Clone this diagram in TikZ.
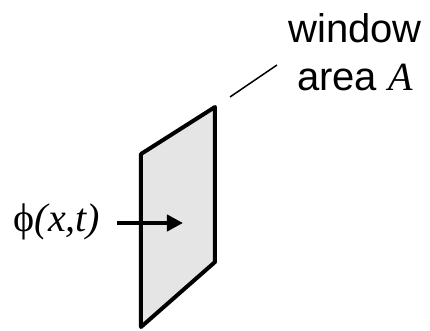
\documentclass[tikz,border=0pt]{standalone}
\usepackage{fontspec}
\setmainfont{Liberation Sans}
\newfontfamily\timesfont{Liberation Serif}
\usetikzlibrary{arrows.meta}
\newcommand{\var}[1]{{\timesfont\itshape #1}}

\begin{document}
\begin{tikzpicture}[
    x=0.5pt, y=-0.5pt,
    font=\fontsize{20}{24}\selectfont,
      >=Triangle,
      window/.style={draw=black, line width=2pt, line join=round, fill=black!10},
      label/.style={align=center, text=black, inner sep=0pt},
      flux/.style={->, line width=2pt, >={Triangle[length=8pt, width=8pt]}},
      leader/.style={draw=black, line width=0.75pt}
    ]
      \useasboundingbox (0,0) rectangle (430,331);
      \coordinate (top left) at (141,154);
      \coordinate (top right) at (215,107);
      \coordinate (bottom right) at (215,262);
      \coordinate (bottom left) at (141,327);
      \draw[window] (top left) -- (top right) -- (bottom right) -- (bottom left) -- cycle;

      \node[label] (phi) at (57,222) {{\timesfont ϕ}\var{(x,t)}};
      \coordinate (flux start) at (117,223);
      \coordinate (flux end) at (183,223);
      \draw[flux] (flux start) -- (flux end);

      \node[label] (area) at (355,52) {window\\area \var{A}};
      \coordinate (leader start) at (230,97);
      \coordinate (leader end) at (277,65);
      \draw[leader] (leader start) -- (leader end);
    \end{tikzpicture}
\end{document}
